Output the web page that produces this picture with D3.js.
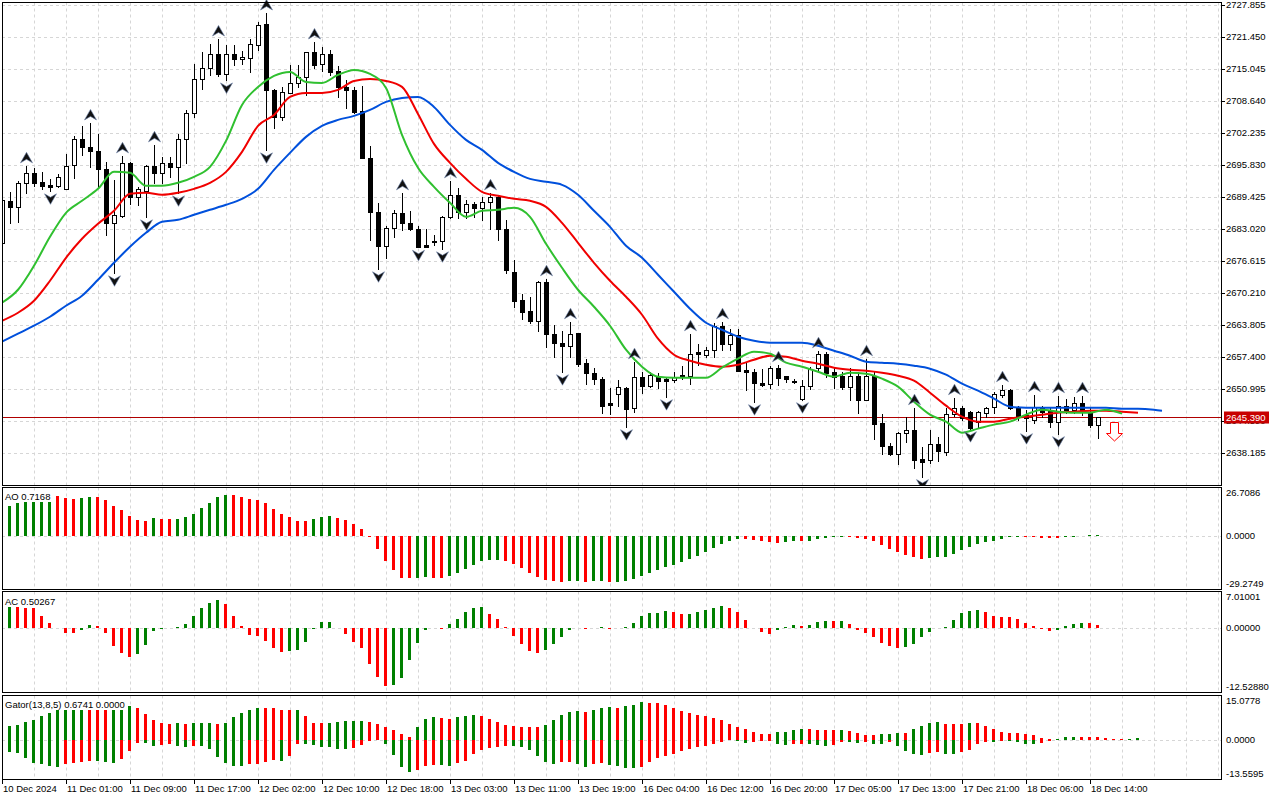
<!DOCTYPE html>
<html>
<head>
<meta charset="utf-8">
<script src="https://cdn.jsdelivr.net/npm/d3@7"></script>
<style>
html, body { margin: 0; padding: 0; background: #fff; }
svg { display: block; font-family: "Liberation Sans", Arial, sans-serif; }
</style>
</head>
<body>
<svg id="chart" width="1280" height="800"></svg>
<script>

// XAUUSD H1, one row per bar: open, high, low, close
const candles = [
  [2680.26,2689.26,2679.86,2688.86],[2688.66,2690.46,2684.26,2687.46],[2687.46,2692.66,2684.46,2692.26],
  [2692.26,2695.66,2690.26,2694.26],[2694.26,2695.26,2691.66,2692.26],[2692.46,2694.46,2691.06,2691.66],
  [2691.86,2693.06,2690.66,2691.46],[2691.66,2694.06,2691.46,2693.46],[2691.06,2698.06,2691.06,2695.66],
  [2695.86,2701.66,2693.26,2701.06],[2701.06,2703.66,2697.86,2699.46],[2699.46,2704.26,2695.46,2698.66],
  [2698.66,2702.06,2691.46,2695.06],[2695.06,2696.46,2681.86,2684.26],[2684.26,2692.86,2674.26,2685.86],
  [2685.66,2697.66,2685.46,2696.26],[2696.26,2696.46,2688.06,2689.46],[2689.46,2691.46,2687.86,2691.06],
  [2690.66,2695.86,2685.46,2695.66],[2695.66,2699.86,2692.26,2694.26],[2694.26,2697.46,2692.26,2696.26],
  [2696.26,2697.46,2693.46,2695.46],[2695.46,2702.06,2690.26,2701.06],[2701.06,2706.86,2696.26,2706.26],
  [2706.26,2716.06,2705.46,2713.06],[2713.06,2718.46,2711.06,2715.26],[2715.26,2720.06,2713.86,2718.06],
  [2718.06,2721.06,2713.66,2714.06],[2714.06,2719.86,2712.86,2718.06],[2718.06,2719.86,2715.86,2717.06],
  [2717.06,2718.66,2716.06,2717.46],[2717.26,2721.06,2714.46,2720.06],[2719.86,2724.46,2718.86,2723.86],
  [2724.06,2726.26,2698.86,2710.86],[2710.86,2711.06,2703.26,2705.46],[2705.46,2711.46,2704.86,2710.46],
  [2710.26,2715.86,2710.26,2712.26],[2712.26,2715.86,2711.46,2713.46],[2713.46,2718.46,2709.86,2718.46],
  [2718.46,2720.46,2715.26,2715.86],[2716.06,2719.46,2714.66,2718.06],[2718.06,2718.86,2713.86,2714.46],
  [2714.66,2715.66,2709.46,2711.46],[2711.46,2712.86,2707.26,2710.86],[2710.86,2711.46,2706.26,2706.46],
  [2706.66,2711.66,2697.26,2697.26],[2697.26,2699.66,2680.86,2686.46],[2686.46,2688.26,2675.06,2679.66],
  [2679.66,2683.66,2677.26,2683.26],[2683.26,2686.86,2681.46,2686.26],[2686.26,2690.26,2682.86,2684.26],
  [2684.26,2686.66,2682.86,2683.06],[2683.06,2683.66,2679.36,2679.46],[2679.86,2683.06,2679.46,2679.46],
  [2680.46,2681.86,2679.86,2680.66],[2680.66,2685.66,2679.06,2685.46],[2685.46,2692.66,2685.26,2689.86],
  [2689.86,2691.26,2685.26,2686.46],[2686.46,2688.86,2685.26,2688.06],[2688.06,2688.46,2685.46,2687.26],
  [2687.26,2689.46,2684.86,2688.46],[2688.46,2690.26,2683.06,2689.46],[2689.46,2689.86,2680.86,2683.06],
  [2683.06,2684.86,2674.26,2674.86],[2674.46,2676.86,2667.46,2668.66],[2668.86,2670.06,2665.06,2666.46],
  [2666.66,2669.46,2664.26,2664.66],[2664.66,2672.66,2662.66,2672.46],[2672.46,2673.06,2659.46,2662.06],
  [2662.06,2663.86,2657.46,2660.26],[2660.26,2662.66,2654.46,2659.66],[2659.66,2664.46,2657.46,2662.06],
  [2662.26,2662.26,2655.66,2656.06],[2656.26,2657.06,2652.06,2654.26],[2654.26,2655.26,2652.06,2653.06],
  [2653.06,2653.46,2646.26,2647.66],[2648.26,2651.26,2646.06,2647.86],[2650.06,2652.86,2647.66,2651.46],
  [2651.26,2651.46,2643.46,2647.06],[2647.26,2656.46,2646.46,2653.46],[2653.46,2654.46,2650.26,2651.66],
  [2651.66,2654.46,2651.46,2653.86],[2653.46,2654.26,2651.26,2652.66],[2653.06,2653.46,2649.46,2652.66],
  [2652.86,2654.46,2652.46,2653.46],[2653.86,2655.66,2653.06,2653.46],[2653.66,2662.06,2652.06,2658.06],
  [2658.46,2660.06,2655.86,2658.06],[2657.86,2659.46,2657.46,2658.86],[2658.86,2664.26,2657.46,2663.66],
  [2663.66,2664.46,2658.86,2660.06],[2660.06,2663.06,2658.86,2661.86],[2661.86,2663.06,2654.66,2654.66],
  [2654.86,2656.26,2650.86,2654.46],[2654.46,2655.06,2648.46,2652.26],[2652.26,2655.06,2651.66,2651.86],
  [2652.06,2655.66,2651.26,2655.26],[2655.26,2655.86,2651.86,2653.26],[2653.66,2653.66,2652.46,2653.06],
  [2652.66,2653.06,2652.26,2652.46],[2649.06,2652.86,2648.86,2651.66],[2651.66,2655.46,2651.06,2655.06],
  [2655.26,2658.66,2654.86,2658.06],[2658.06,2658.46,2653.46,2654.26],[2654.46,2655.26,2651.26,2653.46],
  [2653.66,2654.46,2651.06,2651.46],[2651.46,2655.26,2648.86,2653.66],[2653.66,2654.46,2646.26,2648.86],
  [2648.86,2657.06,2648.86,2653.66],[2653.66,2654.46,2641.06,2644.06],[2644.26,2646.06,2638.06,2639.66],
  [2639.66,2640.26,2637.86,2638.06],[2638.06,2642.46,2636.06,2642.26],[2642.26,2645.46,2640.46,2642.86],
  [2642.86,2647.26,2635.26,2636.86],[2637.06,2639.46,2633.46,2636.46],[2636.86,2642.86,2636.26,2640.06],
  [2640.06,2641.46,2636.66,2638.66],[2638.46,2647.26,2637.86,2646.06],[2646.06,2649.26,2645.66,2647.26],
  [2647.26,2647.66,2644.86,2645.26],[2646.46,2646.66,2643.06,2643.26],[2644.46,2646.66,2643.26,2646.46],
  [2646.26,2647.46,2645.46,2647.26],[2647.46,2650.46,2646.26,2650.06],[2649.86,2651.86,2649.46,2650.86],
  [2650.86,2651.06,2647.06,2647.26],[2647.46,2647.66,2644.86,2645.46],[2645.86,2646.86,2642.66,2645.26],
  [2644.86,2649.86,2644.26,2647.46],[2647.46,2647.66,2645.46,2646.46],[2646.86,2647.26,2643.46,2644.46],
  [2644.46,2649.66,2642.06,2647.66],[2647.66,2649.06,2646.26,2646.86],[2646.86,2649.46,2646.26,2648.26],
  [2648.26,2649.66,2645.86,2646.46],[2646.46,2647.26,2643.46,2643.86],[2643.86,2645.46,2641.26,2645.39]
];

// alligator lines, one value every second bar (bar 0, 2, 4, ...)
const lips = [2668.26,2670.86,2675.66,2681.46,2686.26,2688.66,2691.06,2694.46,2694.26,2691.66,
  2691.66,2692.26,2693.46,2695.46,2700.66,2707.86,2711.46,2713.66,2714.46,2712.46,
  2712.26,2713.86,2714.86,2714.06,2711.26,2701.86,2695.26,2691.46,2688.26,2685.46,
  2686.66,2686.86,2687.26,2685.46,2680.06,2675.26,2670.86,2667.46,2663.66,2658.86,
  2655.46,2653.46,2653.26,2653.26,2653.26,2655.26,2657.06,2658.46,2658.06,2656.26,
  2655.46,2654.46,2653.46,2654.26,2654.06,2653.06,2651.46,2648.46,2645.86,2644.46,
  2642.26,2643.06,2643.86,2644.46,2645.86,2646.86,2646.46,2646.26,2646.26,2646.86,2646.06];
const teeth = [2664.66,2666.26,2668.66,2672.66,2677.26,2681.06,2684.06,2686.66,2690.06,2690.26,
  2689.86,2690.26,2691.06,2692.26,2694.46,2698.46,2703.66,2705.86,2709.46,2710.26,
  2710.26,2710.86,2712.66,2713.06,2712.66,2711.46,2706.06,2700.06,2696.26,2693.06,
  2690.46,2689.66,2689.06,2688.66,2687.46,2684.26,2680.26,2676.26,2672.66,2669.46,
  2665.86,2661.06,2657.86,2656.66,2655.86,2655.46,2655.86,2656.86,2657.66,2657.46,
  2656.66,2656.06,2655.26,2654.86,2654.66,2654.26,2653.66,2652.66,2650.26,2647.66,
  2645.46,2644.46,2644.46,2645.06,2645.46,2645.86,2646.26,2646.46,2646.66,2646.66,
  2646.46,2646.26];
const jaw = [2660.46,2662.06,2663.66,2665.46,2667.66,2669.66,2672.86,2676.26,2679.46,2682.26,
  2684.46,2684.86,2685.86,2686.86,2687.86,2689.06,2691.06,2694.86,2698.26,2701.46,
  2703.66,2704.86,2705.66,2706.86,2708.46,2709.26,2709.46,2707.46,2703.86,2700.86,
  2698.86,2696.26,2694.46,2693.06,2692.46,2691.86,2689.86,2686.66,2683.46,2679.66,
  2677.26,2673.86,2670.46,2667.06,2664.26,2662.86,2661.46,2660.66,2660.26,2660.26,
  2660.26,2659.66,2658.66,2657.66,2656.46,2656.26,2656.06,2655.66,2655.06,2653.86,
  2652.06,2650.66,2649.06,2647.46,2647.26,2647.26,2647.26,2647.26,2647.26,2647.26,
  2647.06,2647.06,2646.86];
const jawLast = 2646.66; // bar 145, end of the shifted jaw

const fractalUp = [3,11,15,19,27,33,39,50,56,61,68,71,79,86,90,97,102,108,114,119,125,129,132,135];
const fractalDown = [6,14,18,22,28,33,47,52,55,70,78,83,94,100,115,121,128,132];

const lastPrice = 2645.39;
const sellArrow = { bar: 139, price: 2644.45 };

// oscillators, first value belongs to the bar before the window (off screen)
const ao = [13.0,
  14.7,16.4,18.1,19.8,20.9,21.8,22.6,22.0,20.9,20.3,
  20.9,21.5,21.3,19.8,16.4,14.1,11.3,9.0,8.5,10.2,
  9.6,9.5,9.6,10.7,12.4,15.3,18.1,21.5,22.6,22.5,
  21.5,20.3,19.8,18.1,14.7,12.4,10.7,8.5,8.4,9.6,
  10.7,10.8,10.2,9.0,6.8,4.0,-0.7,-7.3,-13.6,-18.6,
  -23.0,-23.2,-23.0,-22.6,-22.7,-23.0,-22.0,-20.2,-17.9,-15.6,
  -13.6,-13.0,-12.9,-13.6,-15.1,-17.5,-20.2,-22.4,-24.1,-24.7,
  -25.0,-24.7,-24.6,-25.0,-24.7,-24.6,-25.0,-24.9,-24.5,-23.6,
  -22.0,-20.2,-18.5,-16.9,-15.6,-14.0,-12.8,-10.9,-8.9,-6.6,
  -4.4,-2.4,-1.3,-1.7,-1.9,-2.7,-3.4,-3.8,-3.2,-2.7,
  -2.8,-2.4,-1.5,-1.0,-0.4,-0.2,-0.7,-1.0,-1.5,-2.7,
  -4.9,-7.2,-8.9,-10.6,-11.7,-12.3,-11.9,-11.7,-11.6,-10.0,
  -7.7,-6.0,-4.4,-3.2,-2.7,-1.5,-0.4,-0.2,-0.4,-0.6,
  -0.9,-1.0,-1.1,-0.4,-0.3,-0.1,0.4,0.7168];
const ac = [3.0,
  3.65,4.45,4.3,3.9,3.8,2.3,1.0,-0.1,-1.0,-1.05,
  -0.35,0.55,0.35,-1.0,-3.6,-4.8,-5.6,-5.0,-3.4,-0.6,
  -0.15,-0.05,0.05,0.73,2.2,3.8,4.85,5.3,4.5,2.3,
  0.33,-1.46,-1.66,-2.66,-4.0,-4.6,-4.45,-4.4,-2.8,-0.33,
  1.13,1.15,-0.13,-1.26,-2.8,-4.0,-7.0,-9.6,-11.2,-11.1,
  -9.76,-6.24,-3.0,-0.46,-0.13,-0.2,0.73,1.66,3.05,3.9,
  3.95,2.7,1.66,0.2,-1.66,-3.1,-4.45,-4.8,-4.25,-3.1,
  -1.8,-0.46,-0.13,-0.2,-0.1,0.13,-0.27,0.0,0.05,0.86,
  2.2,2.85,2.9,3.3,3.1,2.7,2.75,3.0,3.5,3.9,
  4.3,3.9,3.05,1.5,-0.05,-0.8,-1.26,-0.5,0.13,0.46,
  0.27,0.46,1.06,1.26,1.22,1.28,0.66,-0.46,-1.06,-1.86,
  -2.86,-3.45,-3.9,-3.65,-3.05,-1.86,-0.86,-0.13,0.2,1.46,
  2.86,3.25,3.45,3.05,2.25,2.06,2.0,1.66,0.86,0.27,
  -0.27,-0.66,-0.46,0.27,0.66,0.86,0.83,0.50267];
const gatorUp = [4.5,
  4.3,4.66,5.1,6.0,6.6,7.95,9.1,10.3,10.6,10.9,
  11.1,11.0,10.8,10.6,10.7,10.9,11.36,10.8,8.86,6.6,
  5.8,5.45,5.8,5.45,5.55,5.6,5.8,5.45,5.8,7.6,
  9.2,10.3,10.9,10.85,10.8,10.3,10.2,10.3,7.95,5.8,
  5.7,5.75,5.9,6.25,6.26,6.27,6.2,5.2,4.2,3.2,
  1.8,0.8,4.2,6.9,7.6,7.55,7.2,7.6,7.95,8.3,
  7.95,6.9,5.9,4.9,4.85,4.5,4.45,4.4,5.1,6.6,
  8.3,9.3,9.66,9.6,10.3,10.9,11.0,10.95,11.35,12.0,
  12.75,12.6,12.45,11.9,10.9,9.9,9.1,8.6,8.1,7.5,
  6.6,5.5,4.4,3.5,2.8,2.0,1.9,2.6,2.7,3.4,
  3.75,3.7,3.4,3.35,3.3,3.4,3.05,2.4,1.7,1.65,
  2.05,2.1,2.4,2.35,3.75,4.8,5.8,6.1,5.45,5.4,
  5.35,5.8,5.75,4.8,3.75,2.7,2.4,2.35,2.05,1.7,
  0.7,0.35,0.4,1.0,1.05,1.0,0.95,0.9,0.7,0.35,
  0.1,0.4,0.6741];
const gatorDown = [2.6,
  3.07,4.2,4.55,6.25,7.95,8.3,8.86,9.3,8.4,7.95,
  7.5,7.27,7.4,7.7,7.85,6.6,3.9,1.1,1.15,2.16,
  1.93,1.36,2.16,2.5,2.16,2.2,3.2,5.9,7.95,8.86,
  8.98,8.4,8.3,7.7,7.05,7.15,5.45,1.36,1.5,1.8,
  2.4,2.5,3.0,3.3,2.84,1.93,0.45,0.2,1.6,5.3,
  9.3,11.0,10.45,9.1,8.75,8.76,8.8,7.95,7.4,5.0,
  3.6,2.84,2.5,2.2,2.3,2.35,3.6,5.6,7.7,8.3,
  7.7,7.65,8.3,9.3,8.3,8.1,8.7,9.1,9.5,9.7,
  9.2,7.6,6.3,5.7,4.8,3.9,3.1,2.5,2.3,1.6,
  0.8,0.25,0.6,1.0,0.8,0.6,0.3,1.4,1.7,1.35,
  1.3,1.4,1.7,2.05,1.7,0.7,0.75,1.0,0.9,1.35,
  1.4,0.9,2.05,3.75,4.8,5.1,4.45,4.1,4.8,4.85,
  4.1,3.4,1.35,0.7,0.75,0.55,0.6,0.7,1.35,1.4,
  1.0,0.35,0.2,0.15,0.1,0.12,0.05,0.04,0.02,0.01,
  0];

const priceTicks = [2727.855,2721.450,2715.045,2708.640,2702.235,2695.830,2689.425,2683.020,
  2676.615,2670.210,2663.805,2657.400,2650.995,2644.590,2638.185];
const timeLabels = ['10 Dec 2024','11 Dec 01:00','11 Dec 09:00','11 Dec 17:00','12 Dec 02:00',
  '12 Dec 10:00','12 Dec 18:00','13 Dec 03:00','13 Dec 11:00','13 Dec 19:00','16 Dec 04:00',
  '16 Dec 12:00','16 Dec 20:00','17 Dec 05:00','17 Dec 13:00','17 Dec 21:00','18 Dec 06:00','18 Dec 14:00'];
const aoTicks = ['26.7086','0.0000','-29.2749'];
const acTicks = ['7.01001','0.00000','-12.52880'];
const gatorTicks = ['15.0778','0.0000','-13.5595'];

// ---------------------------------------------------------------

const GREEN = '#008000', RED = '#ff0000', GRID = '#d6d6d6';
const FONT = 9.5;
const left = 2, right = 1221;

const panels = {
  main:  { top: 2.5,   bottom: 485.5 },
  ao:    { top: 487.5, bottom: 589.5 },
  ac:    { top: 591.5, bottom: 692.5 },
  gator: { top: 695.5, bottom: 779.5 }
};

const svg = d3.select('#chart');
const defs = svg.append('defs');

const x = d3.scaleLinear().domain([0, 137]).range([2, 1098]);
const y = d3.scaleLinear().domain([2638.185, 2727.855]).range([453, 5]);
const yAO = d3.scaleLinear().domain([-29.2749, 26.7086]).range([panels.ao.bottom, panels.ao.top]);
const yAC = d3.scaleLinear().domain([-12.5288, 7.01001]).range([panels.ac.bottom, panels.ac.top]);
const yG = d3.scaleLinear().domain([-13.5595, 15.0778]).range([panels.gator.bottom, panels.gator.top]);

Object.entries(panels).forEach(([k, p]) => {
  defs.append('clipPath').attr('id', 'clip-' + k)
    .append('rect').attr('x', left).attr('y', p.top)
    .attr('width', right - left).attr('height', p.bottom - p.top);
});
defs.append('clipPath').attr('id', 'clip-frac')
  .append('rect').attr('x', left).attr('y', -20)
  .attr('width', right - left).attr('height', panels.main.bottom + 20);

svg.append('rect').attr('width', 1280).attr('height', 800).attr('fill', '#fff');

// vertical grid every 4 bars, in every panel
const gridBars = d3.range(4, 153, 4);
Object.values(panels).forEach(p => {
  svg.append('g').selectAll('line').data(gridBars).join('line')
    .attr('x1', d => x(d) + 0.5).attr('x2', d => x(d) + 0.5)
    .attr('y1', p.top).attr('y2', p.bottom)
    .attr('stroke', GRID).attr('stroke-dasharray', '3,3');
});

// horizontal grid in the price panel
svg.append('g').selectAll('line').data(priceTicks).join('line')
  .attr('x1', left).attr('x2', right)
  .attr('y1', d => Math.round(y(d)) + 0.5).attr('y2', d => Math.round(y(d)) + 0.5)
  .attr('stroke', GRID).attr('stroke-dasharray', '3,3');

// zero lines of the oscillators
[yAO, yAC, yG].forEach(s => {
  svg.append('line').attr('x1', left).attr('x2', right)
    .attr('y1', Math.round(s(0)) + 0.5).attr('y2', Math.round(s(0)) + 0.5)
    .attr('stroke', GRID).attr('stroke-dasharray', '3,3');
});

// ---- price panel
const main = svg.append('g').attr('clip-path', 'url(#clip-main)');

const yLast = Math.round(y(lastPrice)) + 0.5;
main.append('line').attr('x1', left).attr('x2', right)
  .attr('y1', yLast).attr('y2', yLast).attr('stroke', '#b00000');

const cg = main.append('g').attr('shape-rendering', 'crispEdges');
cg.selectAll('line').data(candles).join('line')
  .attr('x1', (d, i) => x(i) + 0.5).attr('x2', (d, i) => x(i) + 0.5)
  .attr('y1', d => Math.round(y(d[1]))).attr('y2', d => Math.round(y(d[2])) + 1)
  .attr('stroke', '#000');
cg.selectAll('rect').data(candles).join('rect')
  .attr('x', (d, i) => x(i) - 1.5).attr('width', 4)
  .attr('y', d => Math.round(y(Math.max(d[0], d[3]))) + 0.5)
  .attr('height', d => Math.round(y(Math.min(d[0], d[3]))) - Math.round(y(Math.max(d[0], d[3]))))
  .attr('fill', d => d[3] >= d[0] ? '#fff' : '#000')
  .attr('stroke', '#000');

const line = d3.line().x(d => x(d[0])).y(d => y(d[1])).curve(d3.curveMonotoneX);
const jawPts = jaw.map((v, k) => [2 * k, v]).concat([[145, jawLast]]);
main.append('path').datum(jawPts).attr('d', line)
  .attr('fill', 'none').attr('stroke', '#0050dc').attr('stroke-width', 2);
main.append('path').datum(teeth.map((v, k) => [2 * k, v])).attr('d', line)
  .attr('fill', 'none').attr('stroke', '#f00000').attr('stroke-width', 2);
main.append('path').datum(lips.map((v, k) => [2 * k, v])).attr('d', line)
  .attr('fill', 'none').attr('stroke', '#30c030').attr('stroke-width', 2);

// fractals
const fg = svg.append('g').attr('clip-path', 'url(#clip-frac)');
fg.selectAll('path.up').data(fractalUp).join('path').attr('class', 'up')
  .attr('transform', d => `translate(${x(d) + 0.5},${y(candles[d][1]) - 8})`)
  .attr('d', 'M0,-5.5 L6,5 L0,1.5 L-6,5 Z')
  .attr('fill', '#111').attr('stroke', '#6a7fa8').attr('stroke-width', 0.6);
fg.selectAll('path.dn').data(fractalDown).join('path').attr('class', 'dn')
  .attr('transform', d => `translate(${x(d) + 0.5},${y(candles[d][2]) + 8})`)
  .attr('d', 'M0,5.5 L6,-5 L0,-1.5 L-6,-5 Z')
  .attr('fill', '#111').attr('stroke', '#6a7fa8').attr('stroke-width', 0.6);

// sell signal arrow
main.append('path')
  .attr('transform', `translate(${x(sellArrow.bar)},${Math.round(y(sellArrow.price)) + 0.5})`)
  .attr('d', 'M-3.5,0 H4.5 V11 H8.5 L0.5,18.5 L-7.5,11 H-3.5 Z')
  .attr('fill', '#fff').attr('stroke', RED);

// ---- oscillators
function histogram(key, vals, scale, downward) {
  const g = svg.append('g').attr('clip-path', `url(#clip-${key})`).attr('shape-rendering', 'crispEdges');
  const zero = scale(0);
  g.selectAll('rect').data(vals).join('rect')
    .attr('x', (d, k) => x(k - 1) - 2).attr('width', 3)
    .attr('y', d => downward ? zero : Math.min(scale(d), zero))
    .attr('height', d => downward ? scale(-d) - zero : Math.abs(scale(d) - zero))
    .attr('fill', (d, k) => (k > 0 && d > vals[k - 1]) ? GREEN : RED);
}
histogram('ao', ao, yAO, false);
histogram('ac', ac, yAC, false);
histogram('gator', gatorUp, yG, false);
histogram('gator', gatorDown, yG, true);

// indicator names (white box hides the bars under them)
function panelLabel(txt, base) {
  const g = svg.append('g');
  const bg = g.append('rect').attr('fill', '#fff');
  const t = g.append('text').attr('x', 5).attr('y', base).attr('font-size', FONT).text(txt);
  const b = t.node().getBBox();
  bg.attr('x', b.x - 1).attr('y', b.y).attr('width', b.width + 2).attr('height', b.height);
}
panelLabel('AO ' + ao[ao.length - 1].toFixed(4), 500);
panelLabel('AC ' + ac[ac.length - 1].toFixed(5), 605);
panelLabel('Gator(13,8,5) ' + gatorUp[gatorUp.length - 1].toFixed(4) + ' ' + gatorDown[gatorDown.length - 1].toFixed(4), 708);

// ---- frames
Object.values(panels).forEach(p => {
  svg.append('rect').attr('x', left + 0.5).attr('y', p.top)
    .attr('width', right - left).attr('height', p.bottom - p.top)
    .attr('fill', 'none').attr('stroke', '#000');
});

// ---- price axis
const ax = svg.append('g').attr('font-size', FONT);
ax.selectAll('line').data(priceTicks).join('line')
  .attr('x1', right + 0.5).attr('x2', right + 4)
  .attr('y1', d => Math.round(y(d)) + 0.5).attr('y2', d => Math.round(y(d)) + 0.5)
  .attr('stroke', '#000');
ax.selectAll('text').data(priceTicks).join('text')
  .attr('x', right + 5).attr('y', d => y(d)).attr('dy', '0.35em')
  .text(d => d.toFixed(3));

// last price tag, drawn over the tick label it hides in the original
ax.append('rect').attr('x', right + 3).attr('y', yLast - 6)
  .attr('width', 45).attr('height', 12).attr('fill', '#c80000');
ax.append('text').attr('x', right + 5).attr('y', yLast).attr('dy', '0.35em')
  .attr('fill', '#fff').text(lastPrice.toFixed(3));

// oscillator axes
function sideLabels(ticks, p, scale) {
  const vals = ticks.map(Number);
  svg.append('g').attr('font-size', FONT).selectAll('text').data(ticks).join('text')
    .attr('x', right + 5)
    .attr('y', (d, k) => Math.min(Math.max(scale(vals[k]), p.top + 5.5), p.bottom - 5.5))
    .attr('dy', '0.35em').text(d => d);
}
sideLabels(aoTicks, panels.ao, yAO);
sideLabels(acTicks, panels.ac, yAC);
sideLabels(gatorTicks, panels.gator, yG);

// ---- time axis
const tb = svg.append('g').attr('font-size', FONT);
tb.selectAll('line').data(timeLabels).join('line')
  .attr('x1', (d, k) => x(k * 8) + 0.5).attr('x2', (d, k) => x(k * 8) + 0.5)
  .attr('y1', panels.gator.bottom).attr('y2', 784).attr('stroke', '#000');
tb.selectAll('text').data(timeLabels).join('text')
  .attr('x', (d, k) => x(k * 8) + 1).attr('y', 792)
  .text(d => d);

</script>
</body>
</html>
